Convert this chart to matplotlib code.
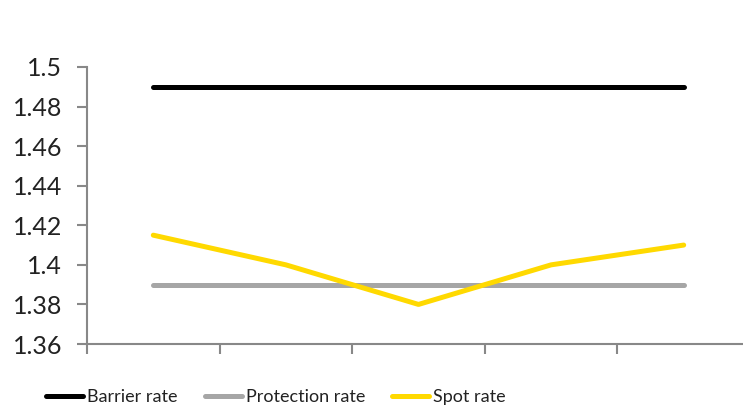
import matplotlib.pyplot as plt
import numpy as np

# chart data
periods = [1, 2, 3, 4, 5]
barrier_rate = [1.49, 1.49, 1.49, 1.49, 1.49]
protection_rate = [1.39, 1.39, 1.39, 1.39, 1.39]
spot_rate = [1.415, 1.40, 1.38, 1.40, 1.41]
y_ticks = [1.36, 1.38, 1.40, 1.42, 1.44, 1.46, 1.48, 1.50]
y_labels = ["1.36", "1.38", "1.4", "1.42", "1.44", "1.46", "1.48", "1.5"]

plt.rcParams['font.family'] = ['Lato', 'DejaVu Sans']

fig = plt.figure(figsize=(7.43, 4.08), dpi=100)
W, H = 743, 408
# axes spans x 87..750 px, y 67..344 px
ax = fig.add_axes([87 / W, (H - 344) / H, (750 - 87) / W, (344 - 67) / H])

x = np.arange(len(periods))
ax.plot(x, barrier_rate, color='black', lw=3.6, solid_capstyle='round', label='Barrier rate')
ax.plot(x, protection_rate, color='#A6A6A6', lw=3.6, solid_capstyle='round', label='Protection rate')
ax.plot(x, spot_rate, color='#FFD900', lw=3.6, solid_capstyle='round',
        solid_joinstyle='round', label='Spot rate')

ax.set_xlim(-0.5, len(periods) - 0.5)
ax.set_ylim(1.36, 1.50)
ax.set_yticks(y_ticks)
ax.set_yticklabels(y_labels)
ax.set_xticks(np.arange(len(periods) + 1) - 0.5)
ax.set_xticklabels([])

for side in ['top', 'right']:
    ax.spines[side].set_visible(False)
for side in ['left', 'bottom']:
    ax.spines[side].set_color('#888888')
    ax.spines[side].set_linewidth(1.5)
ax.tick_params(axis='both', direction='out', length=7, width=1.5, color='#888888',
               labelsize=18, labelcolor='#222222')
ax.tick_params(axis='y', pad=11)

fig.legend(loc='center left', bbox_to_anchor=(46 / W, 1 - 397 / H), ncol=3,
           frameon=False, fontsize=13, handlelength=2.05, handletextpad=0.22,
           columnspacing=1.5, borderpad=0, borderaxespad=0, labelcolor='#222222')

fig.savefig('out.png', dpi=100)
